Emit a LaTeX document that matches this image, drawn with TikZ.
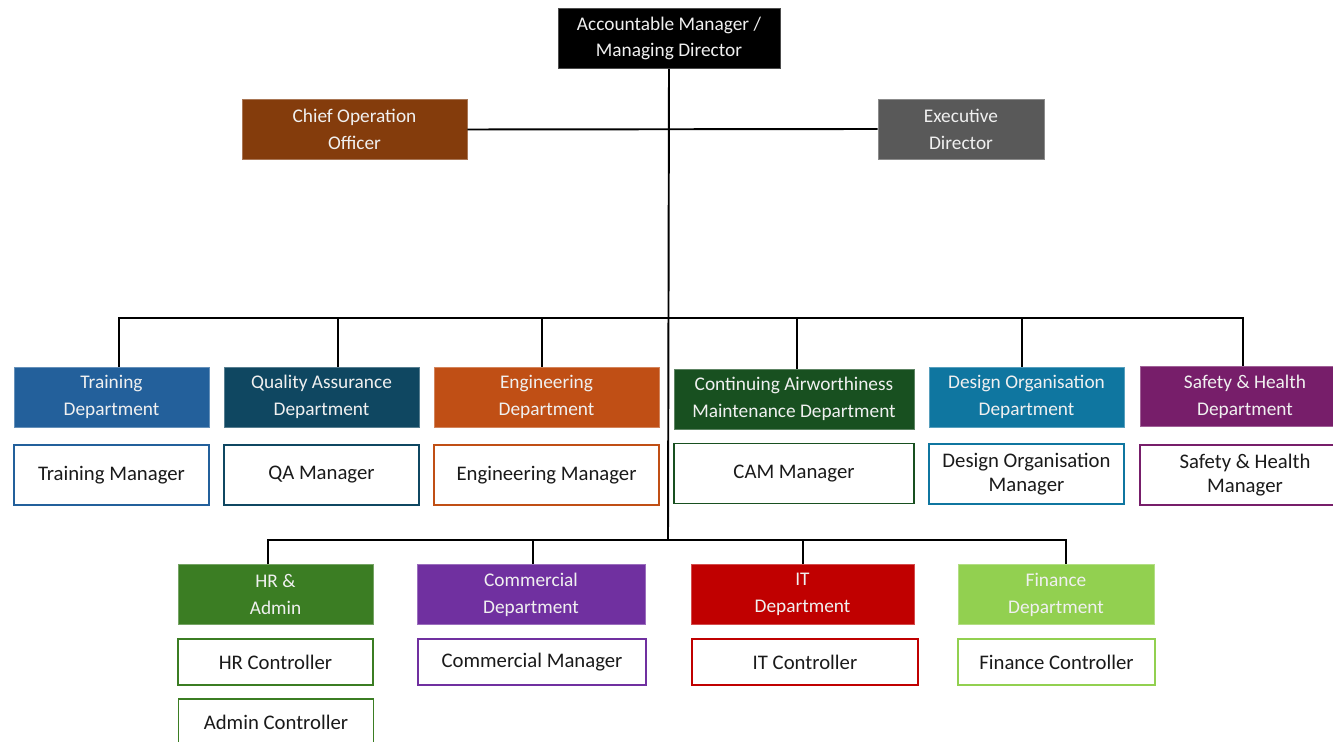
\documentclass[tikz,border=0pt]{standalone}
\usepackage{fontspec}
\setmainfont{Carlito}
\usepackage{xcolor}
\usepackage{tikz}
\usetikzlibrary{calc,positioning}
\definecolor{cootc}{HTML}{843C0C}
\definecolor{execc}{HTML}{595959}
\definecolor{trainc}{HTML}{23609B}
\definecolor{qac}{HTML}{0F4761}
\definecolor{engc}{HTML}{C04F15}
\definecolor{camc}{HTML}{185020}
\definecolor{desc}{HTML}{0F76A0}
\definecolor{safec}{HTML}{771E6A}
\definecolor{hrc}{HTML}{3B7D23}
\definecolor{comc}{HTML}{7030A0}
\definecolor{itc}{HTML}{C00000}
\definecolor{finc}{HTML}{92D050}
\definecolor{inkc}{HTML}{1A1A1A}
\tikzset{
  link/.style={line width=1.1pt,black},
  head/.style={fill=#1,draw=#1!70!white,line width=0.5pt,text=white!94!black,align=center,
    minimum height=1.2cm,inner sep=2pt,font=\fontsize{11}{15.3}\selectfont},
  mgr/.style={fill=white,draw=#1,line width=1.1pt,text=inkc,align=center,
    minimum height=1.2cm,inner sep=2pt,font=\fontsize{11.8}{13.6}\selectfont},
  low/.style={minimum height=0.92cm}
}
\begin{document}
\begin{tikzpicture}[x=0.02cm,y=-0.02cm]
\useasboundingbox[fill=white] (0,0) rectangle (1333,742);
% top of the chart
\node[head=black,minimum width=4.44cm] (am) at (669,38.5) {Accountable Manager /\\Managing Director};
\node[head=cootc,minimum width=4.5cm] (coo) at (354.5,129.5) {Chief Operation\\Officer};
\node[head=execc,minimum width=3.32cm] (exec) at (961,129) {Executive\\Director};
% departments, first row
\node[head=trainc,minimum width=3.9cm] (train) at (111.5,397) {Training\\Department};
\node[head=qac,minimum width=3.9cm] (qa) at (321.5,397) {Quality Assurance\\Department};
\node[head=engc,minimum width=4.5cm] (eng) at (546.5,397) {Engineering\\Department};
\node[head=camc,minimum width=4.8cm] (cam) at (794,399) {Continuing Airworthiness\\Maintenance Department};
\node[head=desc,minimum width=3.9cm] (des) at (1026.5,397) {Design Organisation\\Department};
\node[head=safec,minimum width=4.2cm] (safe) at (1245,396.5) {Safety \& Health\\Department};
% managers, first row
\node[mgr=trainc,minimum width=3.9cm] (trainm) at (111.5,475) {Training Manager};
\node[mgr=qac,minimum width=3.9cm] (qam) at (321.5,475) {QA Manager};
\node[mgr=engc,minimum width=4.5cm] (engm) at (546.5,475) {Engineering Manager};
\node[mgr=camc,minimum width=4.8cm] (camm) at (794,473.5) {CAM Manager};
\node[mgr=desc,minimum width=3.9cm] (desm) at (1026.5,474) {Design Organisation\\Manager};
\node[mgr=safec,minimum width=4.2cm] (safem) at (1245,475) {Safety \& Health\\Manager};
% departments, second row
\node[head=hrc,minimum width=3.9cm] (hr) at (275.5,594.5) {HR \&\\Admin};
\node[head=comc,minimum width=4.56cm] (com) at (531,594.5) {Commercial\\Department};
\node[head=itc,minimum width=4.46cm] (it) at (802.5,594.5) {IT\\Department};
\node[head=finc,minimum width=3.92cm] (fin) at (1056,594.5) {Finance\\Department};
% controllers and managers, second row
\node[mgr=hrc,low,minimum width=3.9cm] (hrm) at (275.5,662) {HR Controller};
\node[mgr=hrc,low,minimum width=3.9cm] (adm) at (276,722) {Admin Controller};
\node[mgr=comc,low,minimum width=4.56cm] (comm) at (532,662) {Commercial Manager};
\node[mgr=itc,low,minimum width=4.52cm] (itm) at (805,662) {IT Controller};
\node[mgr=finc,low,minimum width=3.94cm] (finm) at (1056.5,662) {Finance Controller};
% reporting lines
\coordinate (j1) at (668,318);
\coordinate (j2) at (668,540);
\draw[link] (coo.east) -- (exec.west);
\draw[link] (am.south) -- (j2);
\draw[link] ([xshift=0.15cm]train.north) |- (j1) -| ([xshift=-0.04cm]safe.north);
\foreach \d/\s in {qa/0.33cm,eng/-0.09cm,cam/0.06cm,des/-0.09cm}
  \draw[link] ([xshift=\s]\d.north) -- ([xshift=\s]\d.north |- j1);
\draw[link] ([xshift=-0.15cm]hr.north) |- (j2) -| ([xshift=0.2cm]fin.north);
\foreach \d/\s in {com/0.04cm,it/0.01cm}
  \draw[link] ([xshift=\s]\d.north) -- ([xshift=\s]\d.north |- j2);
\end{tikzpicture}
\end{document}
